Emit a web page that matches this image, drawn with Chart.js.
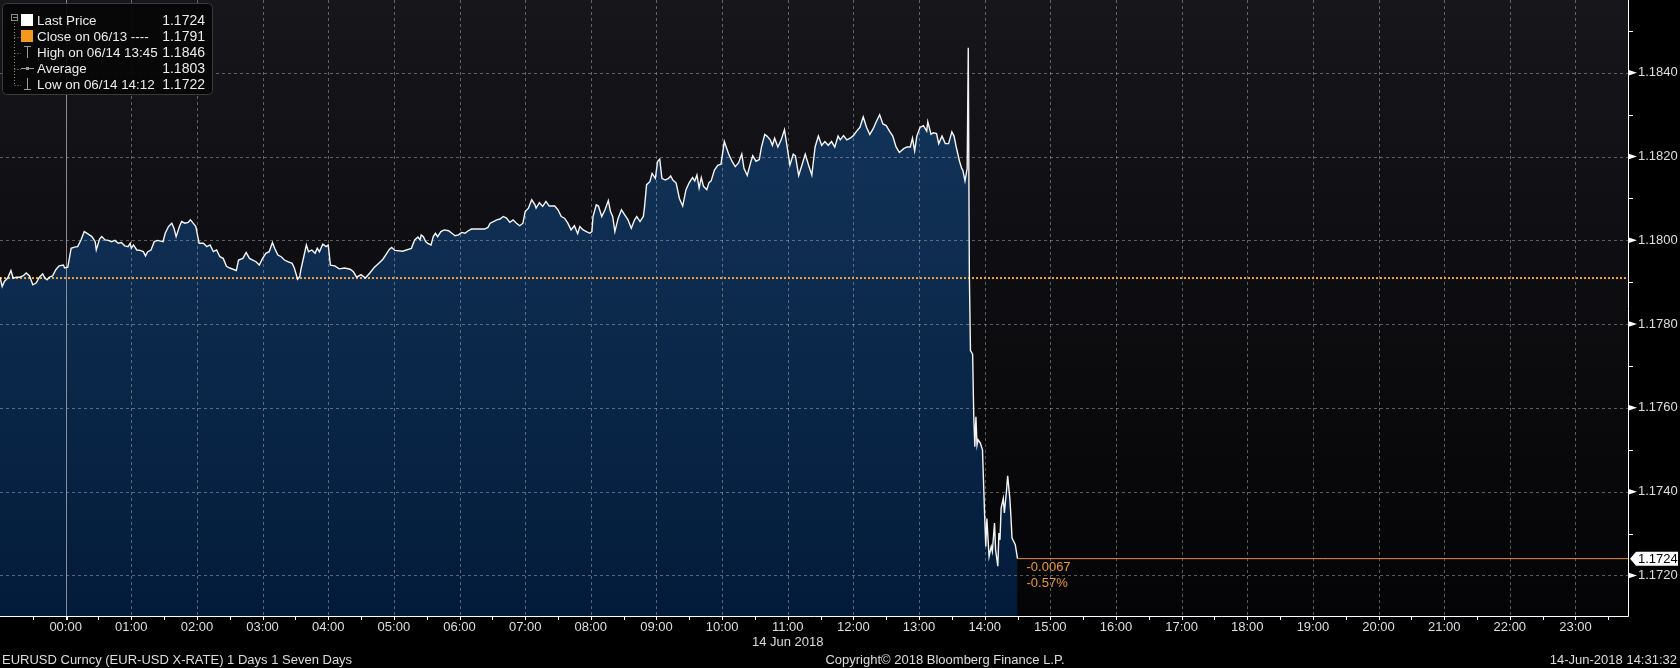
<!DOCTYPE html>
<html>
<head>
<meta charset="utf-8">
<script src="https://cdn.jsdelivr.net/npm/chart.js@4.4.0/dist/chart.umd.min.js"></script>
<style>
html,body{margin:0;padding:0;background:#000;overflow:hidden}
canvas{display:block}
</style>
</head>
<body>
<canvas id="c" width="1680" height="668"></canvas>
<script>
// ---- Data (minutes relative to 00:00 on 14 Jun 2018; negative = 13 Jun) ----
const minutes = [
-60,-58,-56,-53,-50,-48,-45,-42,-39,-36,-33,-30,-27,-24,-21,-19,-17,-15,-12,-9,-6,-2,-1,
2,5,8,11,14,17,20,24,27,28,31,33,36,39,42,45,48,51,54,57,59,60,62,65,68,71,73,75,78,81,84,89,91,94,97,99,
101,104,106,109,112,114,116,119,122,126,129,132,135,138,141,144,147,150,153,156,158,162,165,168,171,174,177,
180,183,186,189,191,194,197,200,203,207,209,212,214,215,218,220,222,225,228,230,232,235,238,240,242,246,250,255,
260,263,266,270,274,278,282,286,290,296,298,301,308,316,319,322,324,325,327,329,331,334,336,338,340,343,346,350,353,356,359,
362,365,368,371,374,378,383,386,388,391,394,397,400,403,406,409,412,415,418,420,423,426,429,430,433,436,439,442,447,450,453,456,459,
462,465,468,470,473,476,479,481,482,485,487,490,493,496,498,500,502,505,508,511,514,517,520,522,525,528,529,531,534,536,539,
541,543,545,548,551,553,555,558,561,564,567,570,573,575,577,579,581,583,586,588,590,593,596,599,
602,606,609,612,615,618,620,623,626,628,631,634,636,639,641,644,646,648,651,654,657,659,662,665,667,670,673,676,679,
682,685,688,691,694,697,700,703,706,708,711,714,717,720,723,726,729,732,735,738,741,744,747,750,753,756,759,
762,766,769,772,774,776,778,781,784,787,788,791,793,796,798,801,804,807,810,812,814,817,819,820,822,824,825,
826,827,829,830,831,832,833,834,836,838,840,841,842,844,846,847,849,850,852,853,854,855,857,858,860,861,863,864,865,868,870
];
const prices = [
1.17912,1.17890,1.17902,1.17910,1.17928,1.17910,1.17912,1.17912,1.17915,1.17922,1.17915,1.17894,1.17898,1.17912,1.17920,1.17910,1.17906,1.17912,1.17915,1.17930,1.17939,1.17941,1.17934,
1.17936,1.17981,1.17984,1.17985,1.18001,1.18021,1.18016,1.18009,1.17997,1.17977,1.18003,1.18009,1.18001,1.18000,1.17997,1.18000,1.17993,1.17995,1.17987,1.17985,1.17993,1.17981,1.17989,1.17977,1.17976,1.17973,1.17963,1.17973,1.17977,1.17997,1.18000,1.17997,1.18017,1.18033,1.18041,1.18029,
1.18009,1.18033,1.18045,1.18041,1.18043,1.18049,1.18043,1.18033,1.17993,1.17993,1.17985,1.17989,1.17973,1.17977,1.17961,1.17957,1.17938,1.17934,1.17931,1.17928,1.17953,1.17957,1.17971,1.17957,1.17953,1.17949,1.17941,
1.17957,1.17969,1.17973,1.17995,1.17981,1.17965,1.17961,1.17953,1.17949,1.17945,1.17934,1.17907,1.17914,1.17930,1.17965,1.17989,1.17973,1.17977,1.17969,1.17981,1.17973,1.17991,1.17985,1.17989,1.17941,1.17939,1.17932,1.17934,
1.17931,1.17925,1.17912,1.17918,1.17910,1.17922,1.17935,1.17945,1.17955,1.17979,1.17983,1.17976,1.17974,1.17981,1.18001,1.18008,1.18001,1.18013,1.18009,1.17997,1.17993,1.17989,1.18009,1.18017,1.18009,1.18021,1.18025,1.18023,1.18017,1.18011,1.18013,
1.18019,1.18017,1.18023,1.18027,1.18027,1.18027,1.18027,1.18031,1.18041,1.18045,1.18049,1.18051,1.18057,1.18053,1.18043,1.18049,1.18041,1.18035,1.18041,1.18069,1.18077,1.18097,1.18085,1.18077,1.18090,1.18081,1.18093,1.18082,1.18082,1.18073,1.18057,1.18053,1.18041,
1.18025,1.18035,1.18016,1.18033,1.18025,1.18021,1.18017,1.18021,1.18057,1.18085,1.18082,1.18057,1.18073,1.18095,1.18069,1.18057,1.18021,1.18053,1.18073,1.18061,1.18049,1.18029,1.18049,1.18057,1.18045,1.18057,1.18077,1.18133,1.18140,1.18160,1.18148,
1.18188,1.18194,1.18148,1.18144,1.18148,1.18154,1.18144,1.18137,1.18100,1.18082,1.18121,1.18138,1.18150,1.18142,1.18156,1.18125,1.18150,1.18129,1.18121,1.18138,1.18142,1.18168,1.18179,1.18182,
1.18236,1.18206,1.18189,1.18176,1.18185,1.18206,1.18172,1.18155,1.18185,1.18202,1.18189,1.18193,1.18223,1.18253,1.18249,1.18240,1.18227,1.18244,1.18223,1.18240,1.18264,1.18231,1.18180,1.18206,1.18202,1.18155,1.18180,1.18206,1.18180,
1.18156,1.18223,1.18249,1.18227,1.18236,1.18227,1.18236,1.18223,1.18249,1.18240,1.18250,1.18240,1.18244,1.18250,1.18261,1.18270,1.18295,1.18270,1.18253,1.18266,1.18284,1.18300,1.18278,1.18274,1.18261,1.18249,1.18223,
1.18210,1.18219,1.18223,1.18223,1.18244,1.18214,1.18249,1.18270,1.18274,1.18261,1.18283,1.18253,1.18257,1.18255,1.18231,1.18249,1.18231,1.18231,1.18259,1.18249,1.18223,1.18189,1.18172,1.18168,1.18142,1.18172,1.18460,
1.17916,1.17737,1.17728,1.17583,1.17507,1.17579,1.17511,1.17524,1.17516,1.17500,1.17340,1.17269,1.17336,1.17245,1.17269,1.17257,1.17325,1.17261,1.17222,1.17301,1.17285,1.17360,1.17384,1.17349,1.17404,1.17438,1.17384,1.17340,1.17289,1.17273,1.17240
];
const xTickLabels = ['00:00','01:00','02:00','03:00','04:00','05:00','06:00','07:00','08:00','09:00','10:00','11:00',
                     '12:00','13:00','14:00','15:00','16:00','17:00','18:00','19:00','20:00','21:00','22:00','23:00'];
const yTickValues = [1.1720,1.1740,1.1760,1.1780,1.1800,1.1820,1.1840];
const yMinorValues = [1.1730,1.1750,1.1770,1.1790,1.1810,1.1830,1.1850];
const closePrice = 1.1791;
const lastPrice = 1.1724;
const changeTexts = ['-0.0067','-0.57%'];
const legendLabels = ['Last Price','Close on 06/13 ----','High on 06/14 13:45','Average','Low on 06/14 14:12'];
const legendValues = ['1.1724','1.1791','1.1846','1.1803','1.1722'];
const dateLabel = '14 Jun 2018';
const footerLeft = 'EURUSD Curncy (EUR-USD X-RATE) 1 Days 1 Seven Days';
const footerMid = 'Copyright\u00A9 2018 Bloomberg Finance L.P.';
const footerRight = '14-Jun-2018 14:31:32';

const X_MIN = -60, X_MAX = 1428;
const Y_MIN = 1.17103, Y_MAX = 1.18574;
const FONT = "'Liberation Sans', Arial, sans-serif";

const series = minutes.map((m, i) => ({x: m, y: prices[i]}));
const closeData = [{x: X_MIN, y: closePrice}, {x: X_MAX, y: closePrice}];
const lastData = [{x: minutes[minutes.length - 1], y: lastPrice}, {x: X_MAX, y: lastPrice}];

function fillGradient(context) {
  const ch = context.chart;
  const a = ch.chartArea;
  if (!a) return '#0f2d4f';
  const g = ch.ctx.createLinearGradient(0, a.top, 0, a.bottom);
  g.addColorStop(0, '#15395f');
  g.addColorStop(1, '#031b3a');
  return g;
}

function noPad(s) {
  s.paddingTop = 0; s.paddingBottom = 0; s.paddingLeft = 0; s.paddingRight = 0;
}

const decor = {
  id: 'decor',
  beforeDraw(chart) {
    const {ctx, chartArea: a} = chart;
    ctx.save();
    ctx.fillStyle = '#000';
    ctx.fillRect(0, 0, chart.width, chart.height);
    const g = ctx.createLinearGradient(0, a.top, 0, a.bottom);
    g.addColorStop(0, '#16161b');
    g.addColorStop(1, '#040406');
    ctx.fillStyle = g;
    ctx.fillRect(a.left, a.top, a.right - a.left, a.bottom - a.top);
    ctx.restore();
  },
  beforeDatasetsDraw(chart) {
    const {ctx, chartArea: a, scales: {x, y}} = chart;
    ctx.save();
    ctx.lineWidth = 1;
    ctx.strokeStyle = 'rgba(175,175,180,0.5)';
    ctx.setLineDash([3, 3]);
    xTickLabels.forEach((l, i) => {
      if (i === 0) return;
      const px = Math.round(x.getPixelForValue(i * 60)) + 0.5;
      ctx.beginPath(); ctx.moveTo(px, a.top); ctx.lineTo(px, a.bottom); ctx.stroke();
    });
    yTickValues.forEach(v => {
      const py = Math.round(y.getPixelForValue(v)) + 0.5;
      ctx.beginPath(); ctx.moveTo(a.left, py); ctx.lineTo(a.right, py); ctx.stroke();
    });
    ctx.setLineDash([]);
    ctx.strokeStyle = 'rgba(170,170,175,0.8)';
    const p0 = Math.round(x.getPixelForValue(0)) + 0.5;
    ctx.beginPath(); ctx.moveTo(p0, a.top); ctx.lineTo(p0, a.bottom); ctx.stroke();
    ctx.restore();
  },
  afterDatasetsDraw(chart) {
    const {ctx, chartArea: a, scales: {x, y}} = chart;
    ctx.save();
    // axis lines
    ctx.strokeStyle = '#ffffff';
    ctx.lineWidth = 1;
    ctx.beginPath();
    ctx.moveTo(a.left, a.bottom + 0.5); ctx.lineTo(a.right + 0.5, a.bottom + 0.5);
    ctx.moveTo(a.right + 0.5, a.top); ctx.lineTo(a.right + 0.5, a.bottom + 0.5);
    ctx.stroke();
    // x ticks (hours and half hours)
    ctx.fillStyle = '#ffffff';
    for (let m = -30; m < X_MAX; m += 30) {
      const px = Math.round(x.getPixelForValue(m));
      ctx.fillRect(px, a.bottom + 1, m === 0 ? 2 : 1, 3);
    }
    // y major markers (triangles) and minor ticks
    yTickValues.forEach(v => {
      const py = y.getPixelForValue(v);
      ctx.beginPath();
      ctx.moveTo(a.right, py - 3); ctx.lineTo(a.right + 9, py); ctx.lineTo(a.right, py + 3);
      ctx.closePath(); ctx.fill();
    });
    yMinorValues.forEach(v => {
      const py = Math.round(y.getPixelForValue(v));
      ctx.fillRect(a.right, py, 5, 1);
    });
    // last price label on the axis
    const ly = y.getPixelForValue(lastPrice);
    ctx.fillStyle = '#ffffff';
    ctx.beginPath();
    ctx.moveTo(a.right + 2, ly);
    ctx.lineTo(a.right + 8, ly - 7);
    ctx.lineTo(chart.width - 2, ly - 7);
    ctx.lineTo(chart.width - 2, ly + 7);
    ctx.lineTo(a.right + 8, ly + 7);
    ctx.closePath(); ctx.fill();
    ctx.fillStyle = '#000';
    ctx.font = '13px ' + FONT;
    ctx.textBaseline = 'middle';
    ctx.textAlign = 'left';
    ctx.fillText(lastPrice.toFixed(4), a.right + 10, ly + 1);
    // change texts
    const ex = x.getPixelForValue(minutes[minutes.length - 1]);
    ctx.fillStyle = '#eb9a2e';
    ctx.fillText(changeTexts[0], ex + 9, ly + 9);
    ctx.fillText(changeTexts[1], ex + 9, ly + 25);
    // footer texts
    ctx.fillStyle = '#dcdcdc';
    ctx.textAlign = 'center';
    ctx.fillText(dateLabel, x.getPixelForValue(660), 642);
    ctx.textAlign = 'left';
    ctx.fillText(footerLeft, 2, 660);
    ctx.textAlign = 'center';
    ctx.fillText(footerMid, 945, 660);
    ctx.textAlign = 'right';
    ctx.fillText(footerRight, 1677, 660);
    // legend
    drawLegend(ctx);
    ctx.restore();
  }
};

function drawLegend(ctx) {
  ctx.save();
  const bx = 2.5, by = 3.5, bw = 210, bh = 91, r = 4;
  ctx.beginPath();
  ctx.moveTo(bx + r, by); ctx.lineTo(bx + bw - r, by); ctx.quadraticCurveTo(bx + bw, by, bx + bw, by + r);
  ctx.lineTo(bx + bw, by + bh - r); ctx.quadraticCurveTo(bx + bw, by + bh, bx + bw - r, by + bh);
  ctx.lineTo(bx + r, by + bh); ctx.quadraticCurveTo(bx, by + bh, bx, by + bh - r);
  ctx.lineTo(bx, by + r); ctx.quadraticCurveTo(bx, by, bx + r, by);
  ctx.closePath();
  ctx.fillStyle = 'rgba(6,6,8,0.93)';
  ctx.fill();
  ctx.strokeStyle = '#3a3a3f';
  ctx.lineWidth = 1;
  ctx.stroke();
  const rowY = i => 20.5 + i * 16;
  // tree lines
  ctx.strokeStyle = '#8c8c8c';
  ctx.setLineDash([1, 2]);
  ctx.beginPath();
  ctx.moveTo(14.5, 23); ctx.lineTo(14.5, rowY(4));
  for (let i = 1; i < 5; i++) { ctx.moveTo(14.5, Math.round(rowY(i)) + 0.5); ctx.lineTo(21, Math.round(rowY(i)) + 0.5); }
  ctx.stroke();
  ctx.setLineDash([]);
  // collapse box
  ctx.strokeRect(11.5, 14.5, 6, 6);
  ctx.beginPath(); ctx.moveTo(13, 17.5); ctx.lineTo(17, 17.5); ctx.stroke();
  // icons
  ctx.fillStyle = '#ffffff';
  ctx.fillRect(21, 14, 12, 12);
  ctx.fillStyle = '#f39a1e';
  ctx.fillRect(21, 30, 12, 12);
  ctx.strokeStyle = '#9a9a9a';
  ctx.beginPath();
  ctx.moveTo(24, 46.5); ctx.lineTo(31, 46.5); ctx.moveTo(27.5, 46.5); ctx.lineTo(27.5, 58);
  ctx.moveTo(21, 68.5); ctx.lineTo(34, 68.5);
  ctx.moveTo(27.5, 78); ctx.lineTo(27.5, 89.5); ctx.moveTo(24, 89.5); ctx.lineTo(31, 89.5);
  ctx.stroke();
  ctx.fillStyle = '#9a9a9a';
  ctx.fillRect(26, 67, 3, 3);
  // text
  ctx.textBaseline = 'middle';
  ctx.fillStyle = '#ececec';
  legendLabels.forEach((t, i) => {
    ctx.font = '13.4px ' + FONT;
    ctx.textAlign = 'left';
    ctx.fillText(t, 37, rowY(i) + 0.5);
    ctx.font = '14px ' + FONT;
    ctx.textAlign = 'right';
    ctx.fillText(legendValues[i], 205, rowY(i) + 0.5);
  });
  ctx.restore();
}

new Chart(document.getElementById('c'), {
  type: 'line',
  data: {
    datasets: [
      {data: series, borderColor: '#f4f4f4', borderWidth: 1.4, pointRadius: 0, tension: 0,
       fill: 'start', backgroundColor: fillGradient},
      {data: closeData, borderColor: '#f2a33a', borderWidth: 2, borderDash: [2, 2], pointRadius: 0, fill: false},
      {data: lastData, borderColor: '#e8901e', borderWidth: 1, pointRadius: 0, fill: false}
    ]
  },
  options: {
    responsive: false,
    animation: false,
    events: [],
    layout: {padding: 0},
    plugins: {legend: {display: false}, tooltip: {enabled: false}, filler: {drawTime: 'beforeDatasetsDraw'}},
    scales: {
      x: {
        type: 'linear', min: X_MIN, max: X_MAX,
        afterBuildTicks: s => { s.ticks = xTickLabels.map((l, i) => ({value: i * 60})); },
        afterFit: s => { s.height = 52; noPad(s); },
        grid: {display: false, drawTicks: false},
        border: {display: false},
        ticks: {color: '#dedede', font: {family: FONT, size: 13}, padding: 4, maxRotation: 0, autoSkip: false,
                callback: v => xTickLabels[Math.round(v / 60)]}
      },
      y: {
        type: 'linear', position: 'right', min: Y_MIN, max: Y_MAX,
        afterBuildTicks: s => { s.ticks = yTickValues.map(v => ({value: v})); },
        afterFit: s => { s.width = 52; noPad(s); },
        grid: {display: false, drawTicks: false},
        border: {display: false},
        ticks: {color: '#dedede', font: {family: FONT, size: 13}, padding: 10,
                callback: v => Number(v).toFixed(4)}
      }
    }
  },
  plugins: [decor]
});
</script>
</body>
</html>
